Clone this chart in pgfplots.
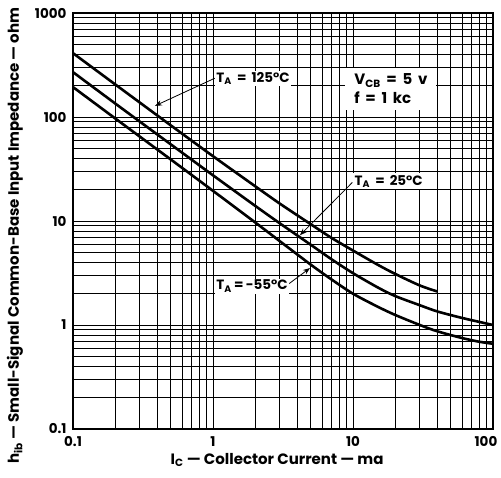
\documentclass[border=0pt]{standalone}
\usepackage{fontspec}
\setmainfont{Poppins}
\usepackage{pgfplots}
\pgfplotsset{compat=1.18}
\usetikzlibrary{arrows.meta}

% h_ib vs I_C, three ambient temperatures
\pgfplotstableread{
ic    hib
0.1   411
0.2   206
0.5   83
1     42
2     21.6
3     14.7
5     9.3
7     6.9
10    5.2
15    3.8
20    3.1
30    2.4
40    2.1
}\tHot
\pgfplotstableread{
ic    hib
0.1   270
0.2   135
0.5   54.5
1     27.5
2     14
3     9.5
5     5.9
7     4.3
10    3.15
15    2.3
20    1.9
30    1.55
40    1.35
60    1.17
80    1.07
100   1.0
}\tRoom
\pgfplotstableread{
ic    hib
0.1   194
0.2   97
0.5   39
1     19.5
2     9.7
3     6.4
5     3.8
7     2.75
10    2.0
15    1.5
20    1.25
30    1.0
40    0.87
60    0.75
80    0.69
100   0.66
}\tCold

\tikzset{note/.style={fill=white, inner sep=1.5pt, anchor=west,
    font=\fontsize{13.5}{15}\selectfont\bfseries}}

\begin{document}
\begin{tikzpicture}[font=\fontsize{13.5}{15}\selectfont\bfseries]
\begin{axis}[
    name=ax,
    xmode=log, ymode=log,
    width=420pt, height=416pt, scale only axis,
    xmin=0.1, xmax=100, ymin=0.1, ymax=1000,
    xtick={0.1,1,10,100}, xticklabels={0.1,1,10,\hspace*{-14pt}100},
    ytick={0.1,1,10,100,1000}, yticklabels={0.1,1,10,100,1000},
    grid=both,
    major grid style={black, line width=0.8pt},
    minor grid style={black, line width=0.8pt},
    axis line style={line width=1.6pt},
    tick style={draw=none},
    xticklabel style={yshift=-4pt},
    yticklabel style={xshift=-3pt},
    xlabel={I\textsubscript{C} — Collector Current — ma},
    ylabel={h\textsubscript{ib} — Small-Signal Common-Base Input Impedance — ohm},
    xlabel style={at={(axis description cs:0.486,-0.074)}, anchor=center,
        font=\fontsize{15}{17}\selectfont\bfseries},
    ylabel style={at={(axis description cs:-0.138,0.465)}, anchor=center,
        font=\fontsize{15}{17}\selectfont\bfseries},
]
\addplot[black, line width=2.6pt, smooth] table[x=ic, y=hib] {\tHot};
\addplot[black, line width=2.6pt, smooth] table[x=ic, y=hib] {\tRoom};
\addplot[black, line width=2.6pt, smooth] table[x=ic, y=hib] {\tCold};

\draw[-{Stealth[length=7pt]}, line width=0.8pt] (axis cs:1.03,236) -- (axis cs:0.385,128);
\node[note] at (axis cs:1.03,236) {T\textsubscript{A} \,=\, 125°C};

\node[fill=white, anchor=west, align=left, inner xsep=9pt, inner ysep=6pt,
    font=\fontsize{15}{19}\selectfont\bfseries] at (axis cs:8.8,186)
    {V\textsubscript{CB} \,=\, 5 \,v\\f \,=\, 1 \,kc};

\draw[-{Stealth[length=7pt]}, line width=0.8pt] (axis cs:9.9,23.5) -- (axis cs:4.18,7.3);
\node[note] at (axis cs:10,24.2) {T\textsubscript{A} \,=\, 25°C};

\draw[-{Stealth[length=7pt]}, line width=0.8pt] (axis cs:3.5,2.5) -- (axis cs:4.93,3.53);
\node[note] at (axis cs:1.03,2.37) {T\textsubscript{A}\,=\,-55°C};
\end{axis}
\pgfresetboundingbox
\path ([shift={(-73pt,-49pt)}]ax.south west) rectangle ([shift={(8pt,13pt)}]ax.north east);
\end{tikzpicture}
\end{document}
